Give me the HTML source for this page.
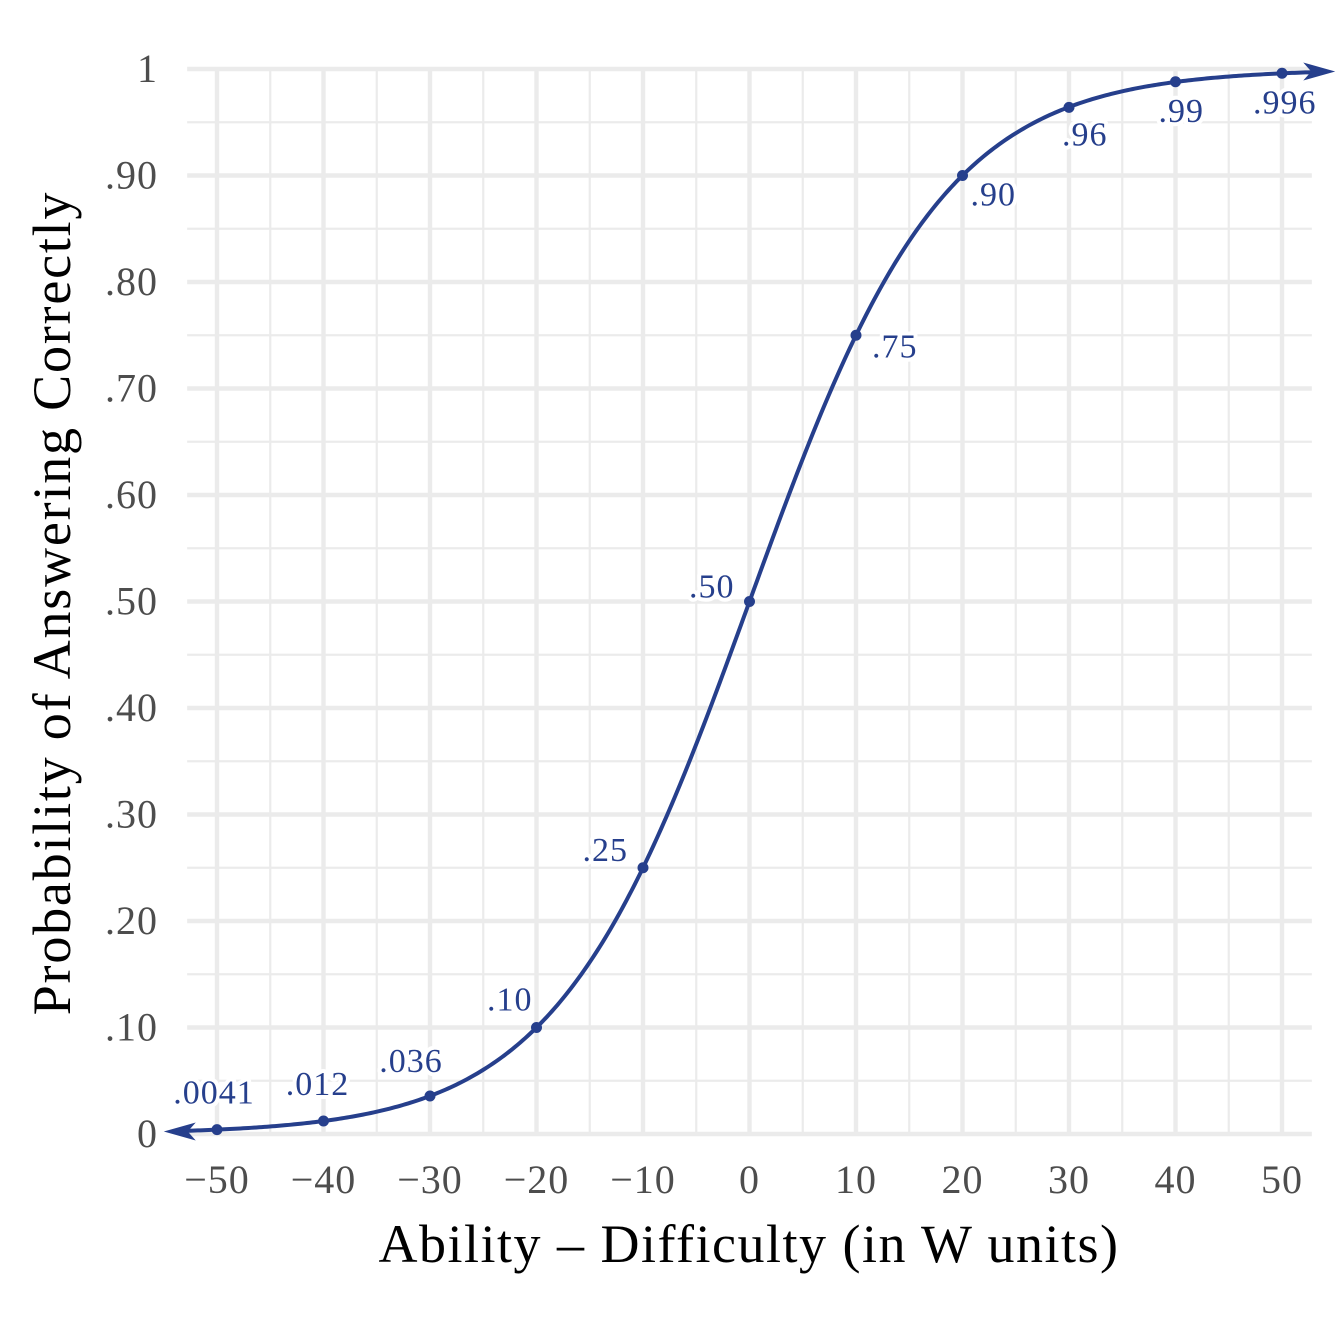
<!DOCTYPE html>
<html><head><meta charset="utf-8"><style>
html,body{margin:0;padding:0;background:#fff;}
svg{display:block;}
text{font-family:"Liberation Serif",serif;}
</style></head><body>
<svg id="chart" width="1344" height="1344" viewBox="0 0 1344 1344" xmlns="http://www.w3.org/2000/svg">
<g id="grid"></g>
<g id="ticks"></g>
<g id="series"></g>
<text x="749" y="1262" text-anchor="middle" font-size="54" letter-spacing="1.5" fill="#000">Ability – Difficulty (in W units)</text>
<text transform="translate(70,603) rotate(-90)" text-anchor="middle" font-size="54" letter-spacing="1.8" fill="#000">Probability of Answering Correctly</text>
</svg>
<script>
const xTicks = [-50,-40,-30,-20,-10,0,10,20,30,40,50];
const xTickLabels = ["−50","−40","−30","−20","−10","0","10","20","30","40","50"];
const yTicks = [0,0.1,0.2,0.3,0.4,0.5,0.6,0.7,0.8,0.9,1];
const yTickLabels = ["0",".10",".20",".30",".40",".50",".60",".70",".80",".90","1"];
const pointX = [-50,-40,-30,-20,-10,0,10,20,30,40,50];
const pointY = [0.0041,0.0122,0.0357,0.10,0.25,0.50,0.75,0.90,0.964,0.988,0.996];
const pointLabels = [".0041",".012",".036",".10",".25",".50",".75",".90",".96",".99",".996"];
const curveMin = -55, curveMax = 55;
// label placement (style): dx, dy, anchor
const labelDx = [-3,-6,-19,-4,-15,-15,16,8,-7,-17,-29];
const labelDy = [-26,-26,-24,-17,-7,-4,22,30,38,40,40];
const labelAnchor = ["middle","middle","middle","end","end","end","start","start","start","start","start"];

const NS="http://www.w3.org/2000/svg";
function sx(v){return 749.5+v*10.65;}
function sy(v){return 1134-v*1065;}
function mk(tag,attrs,parent){const e=document.createElementNS(NS,tag);for(const k in attrs)e.setAttribute(k,attrs[k]);parent.appendChild(e);return e;}
const grid=document.getElementById('grid'),ticks=document.getElementById('ticks'),series=document.getElementById('series');
const xL=sx(-52.8),xR=sx(52.8),yT=sy(1),yB=sy(0);
for(let v=-45;v<=45;v+=10){const l=mk('line',{x1:sx(v),x2:sx(v),y1:yT,y2:yB,stroke:'#ebebeb','stroke-width':2.2},grid);

}
for(let v=0.05;v<1;v+=0.1){const l=mk('line',{x1:xL,x2:xR,y1:sy(v),y2:sy(v),stroke:'#ebebeb','stroke-width':2.2},grid);

}
xTicks.forEach((v,i)=>{const l=mk('line',{x1:sx(v),x2:sx(v),y1:yT-2,y2:yB+2,stroke:'#ebebeb','stroke-width':4.4},grid);


const t=mk('text',{x:sx(v),y:1193,'text-anchor':'middle','font-size':40,'letter-spacing':1,fill:'#4d4d4d'},ticks);t.textContent=xTickLabels[i];

});
yTicks.forEach((v,i)=>{const l=mk('line',{x1:xL,x2:xR,y1:sy(v),y2:sy(v),stroke:'#ebebeb','stroke-width':4.4},grid);


const t=mk('text',{x:158,y:sy(v)+13,'text-anchor':'end','font-size':40,'letter-spacing':1,fill:'#4d4d4d'},ticks);t.textContent=yTickLabels[i];

});
const k=Math.log(9)/20;
let d='';for(let x=curveMin+1.2;x<=curveMax-1.2;x+=0.25){const p=1/(1+Math.exp(-k*x));d+=(d?'L':'M')+sx(x).toFixed(2)+','+sy(p).toFixed(2);}
const c=mk('path',{d:d,fill:'none',stroke:'#263f8c','stroke-width':4,'stroke-linejoin':'round'},series);


function arrow(x,dir){const p=1/(1+Math.exp(-k*x));const X=sx(x),Y=sy(p);
const a=mk('path',{d:`M${X},${Y} L${X-dir*32},${Y-9} L${X-dir*24},${Y} L${X-dir*32},${Y+9}Z`,fill:'#263f8c'},series);

}
arrow(curveMin,-1);arrow(curveMax,1);
pointX.forEach((v,i)=>{const X=sx(v),Y=sy(pointY[i]);
const dot=mk('circle',{cx:X,cy:Y,r:5.5,fill:'#263f8c'},series);


const t=mk('text',{x:X+labelDx[i],y:Y+labelDy[i],'text-anchor':labelAnchor[i],'font-size':34,'letter-spacing':1,fill:'#263f8c',stroke:'#fff','stroke-width':8,'paint-order':'stroke','stroke-linejoin':'round'},series);
t.textContent=pointLabels[i];

});
</script>
</body></html>
